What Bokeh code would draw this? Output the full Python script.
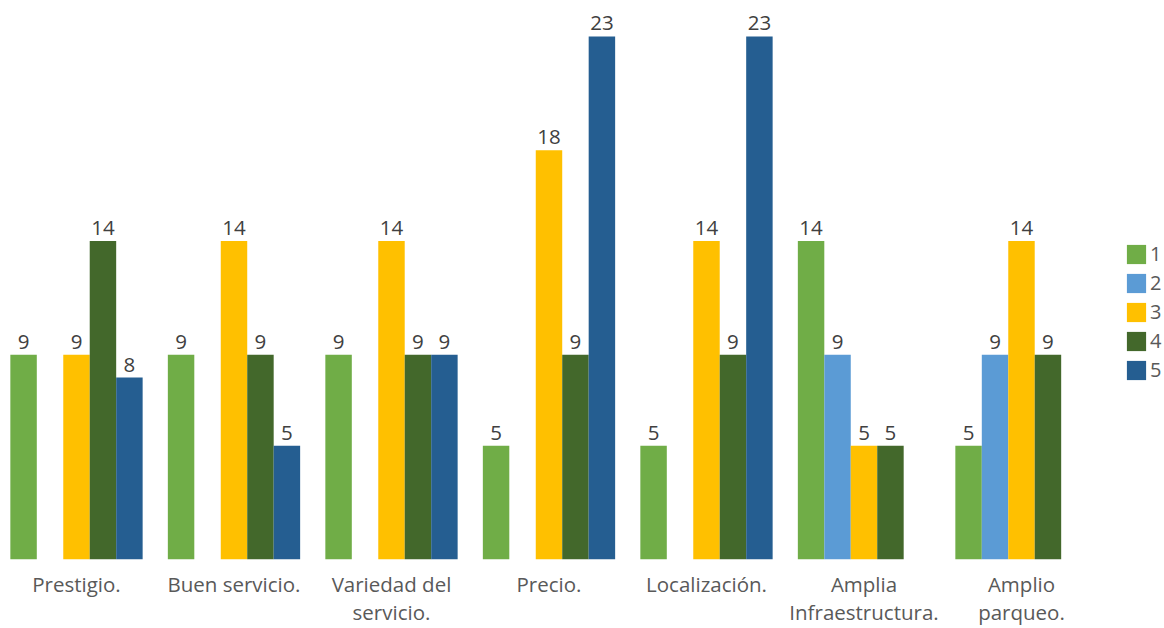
from bokeh.plotting import figure
from bokeh.models import ColumnDataSource, FixedTicker, Range1d, Legend, LegendItem
from bokeh.embed import file_html
from bokeh.resources import INLINE
from bokeh.core.properties import value

categories = ["Prestigio.", "Buen servicio.", "Variedad del\nservicio.", "Precio.",
              "Localización.", "Amplia\nInfraestructura.", "Amplio\nparqueo."]
series_names = ["1", "2", "3", "4", "5"]
s1 = [9, 9, 9, 5, 5, 14, 5]
s2 = [0, 0, 0, 0, 0, 9, 9]
s3 = [9, 14, 14, 18, 14, 5, 14]
s4 = [14, 9, 9, 9, 9, 5, 9]
s5 = [8, 5, 9, 23, 23, 0, 0]
colors = ["#70AD47", "#5B9BD5", "#FFC000", "#43682B", "#255E91"]

FONT = "Open Sans"
FS = "20.5px"
all_series = [s1, s2, s3, s4, s5]

p = figure(width=1164, height=628, output_backend="svg", toolbar_location=None,
           x_range=Range1d(-0.4825, 6.908), y_range=Range1d(0, 24.58),
           min_border_left=0, min_border_right=0, min_border_top=0, min_border_bottom=69)
p.outline_line_color = None
p.xgrid.visible = False
p.ygrid.visible = False
p.yaxis.visible = False

bw = 0.168
items = []
for k, (vals, col, name) in enumerate(zip(all_series, colors, series_names)):
    off = (k - 2) * bw
    xs = [i + off for i in range(len(categories))]
    src = ColumnDataSource(dict(x=xs, top=vals))
    r = p.vbar(x="x", top="top", width=bw, bottom=0, source=src, fill_color=col, line_color=None)
    items.append(LegendItem(label=name, renderers=[r]))
    lx = [x for x, v in zip(xs, vals) if v > 0]
    lv = [v for v in vals if v > 0]
    lsrc = ColumnDataSource(dict(x=lx, y=lv, t=[str(v) for v in lv]))
    p.text(x="x", y="y", text="t", source=lsrc, text_align="center", text_baseline="bottom",
           y_offset=-6, text_font=value(FONT), text_font_size=FS, text_color="#404040")

ax = p.xaxis[0]
ax.ticker = FixedTicker(ticks=list(range(len(categories))))
ax.major_label_overrides = {i: c for i, c in enumerate(categories)}
ax.axis_line_color = None
ax.major_tick_line_color = None
ax.minor_tick_line_color = None
ax.major_tick_in = 0
ax.major_tick_out = 0
ax.major_label_text_font = FONT
ax.major_label_text_font_size = FS
ax.major_label_text_color = "#595959"
ax.major_label_text_line_height = 1.0
ax.major_label_standoff = 10

legend = Legend(items=items, location=(1124, 176), orientation="vertical",
                glyph_width=24, glyph_height=24, label_height=24, spacing=2,
                label_standoff=2, padding=0, margin=0,
                label_text_font=FONT, label_text_font_size="20px", label_text_color="#595959",
                border_line_color=None, background_fill_alpha=0)
p.add_layout(legend)

open("out.html", "w").write(file_html(p, INLINE))
